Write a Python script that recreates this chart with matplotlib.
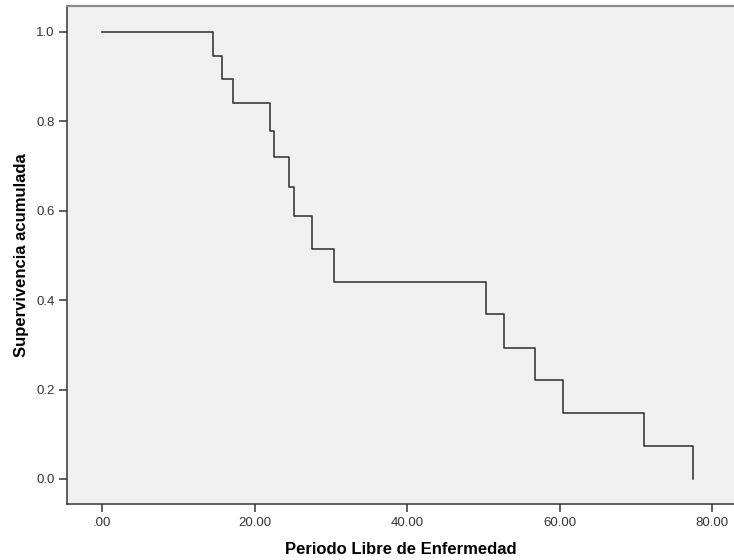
import matplotlib.pyplot as plt

# Kaplan-Meier estimate: event times and cumulative survival after each step
tiempos = [0.0, 14.5, 15.7, 17.2, 22.0, 22.5, 24.5, 25.2, 27.6, 30.4,
           50.4, 52.7, 56.8, 60.4, 71.1, 77.5]
supervivencia = [1.0, 0.947, 0.895, 0.842, 0.779, 0.720, 0.654, 0.588, 0.515, 0.441,
                 0.368, 0.294, 0.221, 0.147, 0.074, 0.0]

xticks = [0, 20, 40, 60, 80]
xtick_labels = ['.00', '20.00', '40.00', '60.00', '80.00']
yticks = [0.0, 0.2, 0.4, 0.6, 0.8, 1.0]

plt.rcParams['font.family'] = ['Liberation Sans', 'DejaVu Sans']

fig = plt.figure(figsize=(7.34, 5.6), dpi=100)
ax = fig.add_axes([67 / 734, 56 / 560, 668 / 734, 498 / 560])
ax.set_facecolor('#f0f0f0')

ax.step(tiempos, supervivencia, where='post', color='#2b2b2b', lw=1.1)

ax.set_xlim(-4.59, 83.0)
ax.set_ylim(-0.056, 1.058)
ax.set_xticks(xticks)
ax.set_xticklabels(xtick_labels)
ax.set_yticks(yticks)
ax.set_yticklabels(['%.1f' % v for v in yticks])
ax.tick_params(axis='both', direction='out', length=6, width=1.1, colors='#333333',
               labelsize=9.5)
ax.tick_params(axis='x', pad=3.5)
ax.tick_params(axis='y', pad=3)

ax.spines['right'].set_visible(False)
ax.spines['top'].set_color('#8c8c8c')
ax.spines['top'].set_linewidth(1.6)
for s in ('left', 'bottom'):
    ax.spines[s].set_color('#333333')
    ax.spines[s].set_linewidth(1.1)

ax.set_xlabel('Periodo Libre de Enfermedad', fontsize=12, fontweight='bold', labelpad=9)
ax.set_ylabel('Supervivencia acumulada', fontsize=12, fontweight='bold', labelpad=5)

fig.savefig('out.png', dpi=100)
